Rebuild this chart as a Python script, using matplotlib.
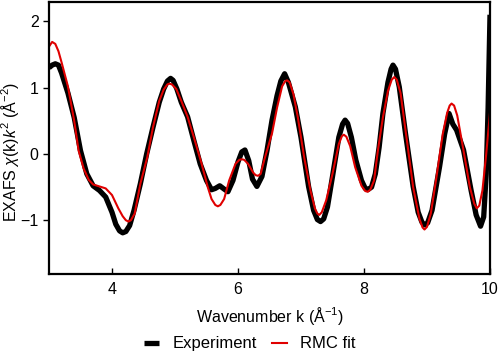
import matplotlib
matplotlib.use('Agg')
import matplotlib.pyplot as plt

plt.rcParams['font.family'] = ['Liberation Sans', 'DejaVu Sans']
plt.rcParams['mathtext.fontset'] = 'custom'
plt.rcParams['mathtext.rm'] = 'Liberation Sans'
plt.rcParams['mathtext.it'] = 'Liberation Sans:italic'

# --- Data ---
k_exp = [3.00, 3.05, 3.10, 3.15, 3.20, 3.30, 3.40, 3.50, 3.60, 3.70, 3.80, 3.90,
         4.00, 4.06, 4.12, 4.17, 4.22, 4.28, 4.35, 4.45, 4.55, 4.65, 4.75, 4.82,
         4.88, 4.93, 4.97, 5.03, 5.10, 5.20, 5.30, 5.40, 5.50, 5.58, 5.64, 5.71,
         5.78, 5.84, 5.92, 6.00, 6.06, 6.11, 6.17, 6.23, 6.30, 6.38, 6.46, 6.54,
         6.62, 6.68, 6.74, 6.80, 6.91, 7.00, 7.12, 7.20, 7.26, 7.31, 7.36, 7.42,
         7.50, 7.60, 7.66, 7.70, 7.74, 7.80, 7.87, 7.96, 8.02, 8.06, 8.12, 8.18,
         8.24, 8.30, 8.38, 8.43, 8.46, 8.50, 8.56, 8.66, 8.78, 8.86, 8.92, 8.96,
         9.01, 9.08, 9.20, 9.28, 9.35, 9.41, 9.47, 9.58, 9.70, 9.78, 9.85, 9.90,
         9.94, 9.97, 10.00]
chi_exp = [1.30, 1.34, 1.36, 1.34, 1.22, 0.92, 0.55, 0.05, -0.30, -0.48, -0.55, -0.65,
           -0.88, -1.06, -1.16, -1.19, -1.17, -1.08, -0.85, -0.45, 0.00, 0.40, 0.78, 0.98,
           1.10, 1.14, 1.11, 0.98, 0.78, 0.56, 0.20, -0.15, -0.40, -0.54, -0.52, -0.48,
           -0.53, -0.57, -0.40, -0.12, 0.03, 0.06, -0.10, -0.38, -0.49, -0.34, 0.05, 0.51,
           0.88, 1.10, 1.21, 1.08, 0.71, 0.25, -0.49, -0.85, -0.99, -1.02, -0.98, -0.80,
           -0.34, 0.25, 0.45, 0.51, 0.46, 0.25, -0.09, -0.40, -0.52, -0.54, -0.50, -0.30,
           0.10, 0.61, 1.08, 1.28, 1.34, 1.28, 1.01, 0.30, -0.49, -0.88, -1.03, -1.07,
           -1.04, -0.85, -0.19, 0.30, 0.61, 0.45, 0.36, 0.06, -0.55, -0.92, -1.09, -0.95,
           -0.30, 0.70, 2.10]

k_fit = [3.00, 3.05, 3.10, 3.15, 3.20, 3.30, 3.40, 3.47, 3.55, 3.63, 3.70, 3.80,
         3.90, 4.00, 4.10, 4.17, 4.22, 4.26, 4.30, 4.36, 4.45, 4.56, 4.65, 4.75,
         4.82, 4.88, 4.91, 4.95, 5.02, 5.10, 5.20, 5.30, 5.42, 5.52, 5.58, 5.64,
         5.68, 5.72, 5.78, 5.86, 5.96, 6.02, 6.06, 6.10, 6.16, 6.24, 6.28, 6.32,
         6.36, 6.42, 6.54, 6.62, 6.70, 6.75, 6.78, 6.82, 6.88, 6.95, 7.05, 7.15,
         7.22, 7.26, 7.29, 7.33, 7.40, 7.50, 7.60, 7.65, 7.68, 7.72, 7.78, 7.86,
         7.96, 8.02, 8.06, 8.10, 8.16, 8.22, 8.30, 8.38, 8.44, 8.48, 8.52, 8.58,
         8.66, 8.78, 8.88, 8.93, 8.96, 9.00, 9.06, 9.15, 9.25, 9.32, 9.36, 9.39,
         9.43, 9.48, 9.58, 9.68, 9.75, 9.79, 9.83, 9.88, 9.94, 10.00]
chi_fit = [1.62, 1.69, 1.66, 1.55, 1.38, 1.02, 0.50, 0.05, -0.22, -0.39, -0.46, -0.49,
           -0.52, -0.62, -0.82, -0.94, -1.00, -1.02, -1.00, -0.90, -0.45, -0.05, 0.40, 0.80,
           0.97, 1.05, 1.06, 1.05, 0.98, 0.80, 0.56, 0.25, -0.14, -0.50, -0.68, -0.77,
           -0.79, -0.77, -0.68, -0.40, -0.15, -0.09, -0.08, -0.09, -0.15, -0.28, -0.32, -0.33,
           -0.30, -0.08, 0.31, 0.70, 1.02, 1.10, 1.11, 1.08, 0.90, 0.55, -0.05, -0.55,
           -0.82, -0.90, -0.92, -0.88, -0.70, -0.30, 0.15, 0.27, 0.29, 0.26, 0.12, -0.20,
           -0.48, -0.56, -0.57, -0.54, -0.40, 0.05, 0.55, 0.95, 1.12, 1.16, 1.12, 0.92,
           0.35, -0.50, -0.98, -1.11, -1.14, -1.10, -0.90, -0.35, 0.30, 0.62, 0.73, 0.76,
           0.73, 0.58, 0.05, -0.50, -0.75, -0.82, -0.78, -0.55, 0.00, 0.62]

xticks = [4, 6, 8, 10]
yticks = [-1, 0, 1, 2]

# --- Plot ---
fig = plt.figure(figsize=(5.0, 3.59), dpi=100)
ax = fig.add_axes([0.098, 0.237, 0.882, 0.757])

ax.plot(k_exp, chi_exp, color='black', lw=3.8, label='Experiment',
        solid_joinstyle='round', solid_capstyle='butt')
ax.plot(k_fit, chi_fit, color='#e00000', lw=1.5, label='RMC fit', solid_joinstyle='round')

ax.set_xlim(3, 10)
ax.set_ylim(-1.81, 2.29)
ax.set_xticks(xticks)
ax.set_yticks(yticks)
ax.tick_params(axis='x', direction='in', length=4, width=1, labelsize=11.5, pad=6)
ax.tick_params(axis='y', direction='out', length=4, width=1, labelsize=11.5)
ax.yaxis.set_major_formatter(plt.FuncFormatter(lambda v, p: f'{int(v)}'.replace('-', '\u2212')))

for s in ax.spines.values():
    s.set_linewidth(1.6)

ax.set_xlabel('Wavenumber k (Å$^{-1}$)', fontsize=11.5)
ax.xaxis.set_label_coords(0.5, -0.115)
ax.set_ylabel('EXAFS $\\chi$(k)$k^2$ (Å$^{-2}$)', fontsize=11.5)
ax.yaxis.set_label_coords(-0.064, 0.45)

fig.legend(loc='center', bbox_to_anchor=(0.5, 0.042), ncol=2, frameon=False,
           fontsize=12, handlelength=0.9, handletextpad=0.8, columnspacing=0.9)

fig.savefig('out.png', dpi=100)
